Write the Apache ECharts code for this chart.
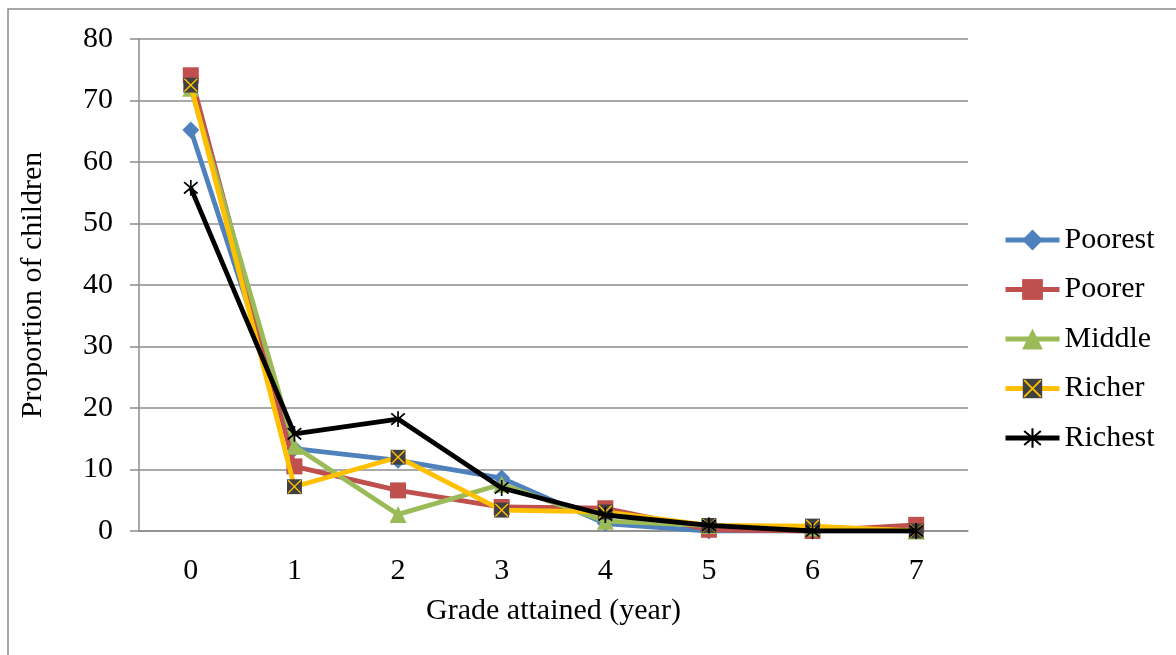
<!DOCTYPE html>
<html>
<head>
<meta charset="utf-8">
<script src="https://cdn.jsdelivr.net/npm/echarts@6/dist/echarts.min.js"></script>
<style>html,body{margin:0;padding:0;background:#fff}#c{width:1176px;height:655px}</style>
</head>
<body>
<div id="c"></div>
<script>
const categories = ['0','1','2','3','4','5','6','7'];
const seriesNames = ['Poorest','Poorer','Middle','Richer','Richest'];
const poorest = [65.2, 13.4, 11.5, 8.6, 1.2, 0, 0, 0];
const poorer  = [74.1, 10.5, 6.6, 3.9, 3.7, 0.2, 0, 1.0];
const middle  = [72.0, 13.8, 2.7, 7.6, 1.6, 0.9, 0.5, 0];
const richer  = [72.5, 7.2, 12.0, 3.4, 3.1, 0.9, 0.8, 0];
const richest = [55.8, 15.8, 18.2, 7.0, 2.6, 0.9, 0, 0];
const yTicks = [0,10,20,30,40,50,60,70,80];

const colors = ['#4F81BD','#C0504D','#9BBB59','#FFC000','#000000'];
function svgSym(svg){ return 'image://data:image/svg+xml;charset=utf-8,' + encodeURIComponent(svg); }
const richerSym = svgSym('<svg xmlns="http://www.w3.org/2000/svg" width="30" height="30" viewBox="0 0 30 30"><rect x="1" y="1" width="28" height="28" fill="#404040"/><path d="M3 3 L27 27 M27 3 L3 27" stroke="#FFC000" stroke-width="2.6" fill="none"/></svg>');
const richestSym = svgSym('<svg xmlns="http://www.w3.org/2000/svg" width="30" height="30" viewBox="0 0 30 30"><path d="M15 1 L15 29 M3 5 L27 25 M27 5 L3 25" stroke="#000" stroke-width="3" fill="none"/></svg>');
const symbols = ['diamond','rect','triangle',richerSym,richestSym];
const sizes = [17,16,17,16,17];
const dataSets = [poorest,poorer,middle,richer,richest];

const font = 'Liberation Serif, Times New Roman, serif';
const FS = 30;
const chart = echarts.init(document.getElementById('c'));
chart.setOption({
  animation:false,
  backgroundColor:'#fff',
  graphic:[{type:'rect',shape:{x:8,y:9,width:1300,height:800},style:{fill:'none',stroke:'#8c8c8c',lineWidth:1.5},silent:true}],
  grid:{left:139,right:208,top:39,bottom:124,containLabel:false},
  legend:{
    orient:'vertical',left:998,top:220,itemWidth:54,itemHeight:26,itemGap:19.5,
    data:seriesNames,
    lineStyle:{width:5},
    textStyle:{fontFamily:font,fontSize:FS,color:'#000',lineHeight:30}
  },
  xAxis:{
    type:'category',data:categories,boundaryGap:true,
    name:'Grade attained (year)',nameLocation:'middle',nameGap:65,
    nameTextStyle:{fontFamily:font,fontSize:FS,color:'#000'},
    axisLine:{lineStyle:{color:'#8c8c8c',width:1.5}},
    axisTick:{show:false},
    axisLabel:{fontFamily:font,fontSize:FS,color:'#000',margin:25},
    splitLine:{show:false}
  },
  yAxis:{
    type:'value',min:0,max:80,interval:10,
    name:'Proportion of children',nameLocation:'middle',nameGap:91,
    nameTextStyle:{fontFamily:font,fontSize:FS,color:'#000'},
    axisLine:{show:true,lineStyle:{color:'#8c8c8c',width:1.5}},
    axisTick:{show:true,length:9,lineStyle:{color:'#8c8c8c',width:1.5}},
    axisLabel:{fontFamily:font,fontSize:FS,color:'#000',margin:26,
      formatter:function(v){return yTicks.indexOf(v)>=0?String(v):'';}},
    splitLine:{show:true,lineStyle:{color:'#8c8c8c',width:1.5}}
  },
  series:seriesNames.map((n,i)=>({
    name:n,type:'line',data:dataSets[i],
    symbol:symbols[i],symbolSize:sizes[i],showAllSymbol:true,
    lineStyle:{color:colors[i],width:4.8},
    itemStyle:{color:colors[i],borderWidth:0},
    z:2+i
  }))
});
</script>
</body>
</html>
